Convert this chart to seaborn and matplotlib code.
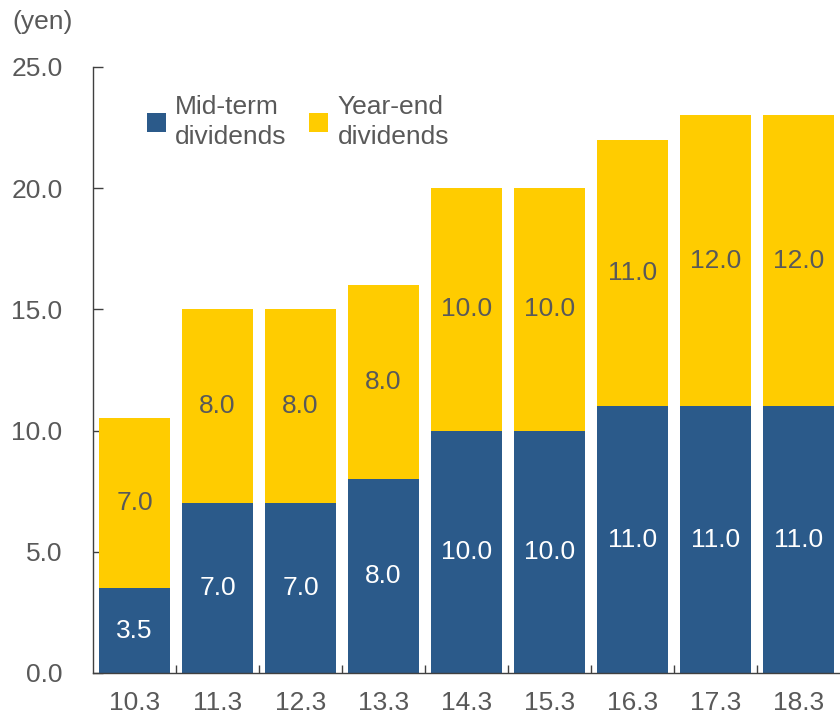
import numpy as np
import pandas as pd
import matplotlib
matplotlib.use("Agg")
import matplotlib.pyplot as plt
from matplotlib.patches import Patch
import seaborn as sns

# Fiscal periods and dividend per share (yen)
periods = ["10.3", "11.3", "12.3", "13.3", "14.3", "15.3", "16.3", "17.3", "18.3"]
mid_term = [3.5, 7.0, 7.0, 8.0, 10.0, 10.0, 11.0, 11.0, 11.0]
year_end = [7.0, 8.0, 8.0, 8.0, 10.0, 10.0, 11.0, 12.0, 12.0]
y_ticks = [0, 5, 10, 15, 20, 25]
series_names = ["Mid-term\ndividends", "Year-end\ndividends"]

BLUE = "#2B5A8A"
YELLOW = "#FFCC00"
GREY = "#595959"
AXIS = "#404040"

sns.set_theme(style="white")
plt.rcParams["font.family"] = ["Liberation Sans", "DejaVu Sans"]

df = pd.DataFrame({"period": periods, "mid": mid_term, "year": year_end})
df["total"] = df["mid"] + df["year"]

W, H = 840, 716
fig = plt.figure(figsize=(W / 100, H / 100), dpi=100)
ax = fig.add_axes([93 / W, 43 / H, 1 - 93 / W, 606 / H])

# stacked bars: full height in yellow, mid-term portion in blue on top
sns.barplot(data=df, x="period", y="total", color=YELLOW, width=0.855,
            saturation=1, errorbar=None, linewidth=0, ax=ax)
sns.barplot(data=df, x="period", y="mid", color=BLUE, width=0.855,
            saturation=1, errorbar=None, linewidth=0, ax=ax)

fs = 19
for i, (m, y) in enumerate(zip(mid_term, year_end)):
    ax.text(i, m / 2, f"{m:.1f}", ha="center", va="center",
            color="white", fontsize=fs)
    ax.text(i, m + y / 2, f"{y:.1f}", ha="center", va="center",
            color=GREY, fontsize=fs)

ax.set_xlim(-0.5, len(periods) - 0.5)
ax.set_ylim(0, 25)
ax.set_xlabel("")
ax.set_ylabel("")

ax.set_yticks(y_ticks)
ax.set_yticklabels([f"{v:.1f}" for v in y_ticks])
ax.tick_params(axis="y", which="major", direction="in", length=7, width=1,
               color=AXIS, pad=22, labelsize=fs, labelcolor=GREY, left=True)

ax.set_xticks(range(len(periods)))
ax.set_xticklabels(periods)
ax.set_xticks(np.arange(0.5, len(periods) - 0.5, 1), minor=True)
ax.tick_params(axis="x", which="major", length=0, pad=13,
               labelsize=fs, labelcolor=GREY)
ax.tick_params(axis="x", which="minor", direction="in", length=6, width=1,
               color=AXIS, bottom=True)

for side in ("top", "right"):
    ax.spines[side].set_visible(False)
for side in ("left", "bottom"):
    ax.spines[side].set_color(AXIS)
    ax.spines[side].set_linewidth(1)

handles = [Patch(facecolor=BLUE, edgecolor="none"),
           Patch(facecolor=YELLOW, edgecolor="none")]
leg = fig.legend(handles, series_names, loc="upper left",
                 bbox_to_anchor=(147 / W, 1 - 95 / H), ncol=2, frameon=False,
                 fontsize=fs, labelcolor=GREY, handlelength=0.72,
                 handleheight=0.72, handletextpad=0.35, columnspacing=0.85,
                 borderpad=0, borderaxespad=0)
for t in leg.get_texts():
    t.set_linespacing(1.3)

fig.text(12 / W, 1 - 22 / H, "(yen)", fontsize=fs, color=GREY,
         ha="left", va="center")

fig.savefig("out.png", dpi=100)
